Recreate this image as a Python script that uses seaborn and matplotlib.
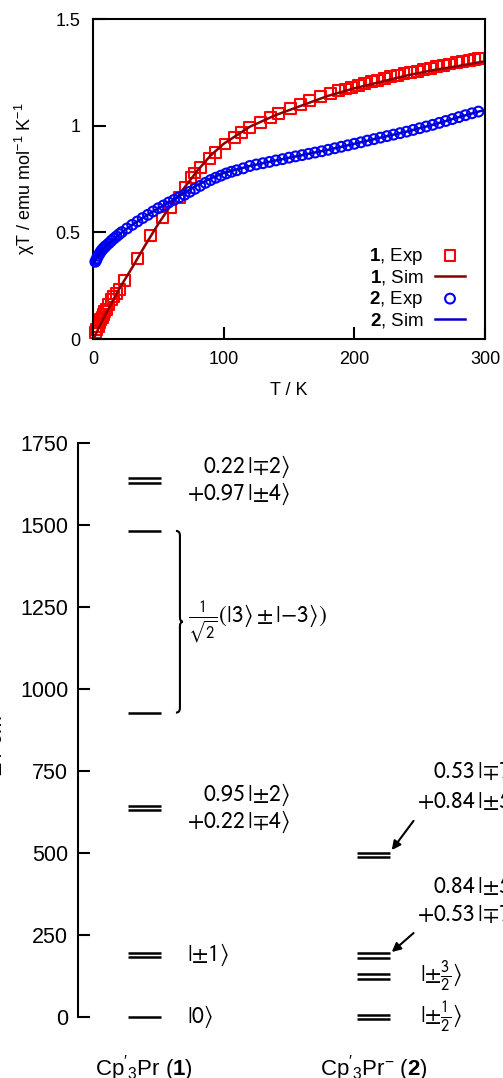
import matplotlib
matplotlib.use("Agg")
import matplotlib.pyplot as plt
import numpy as np
import pandas as pd
import seaborn as sns
from matplotlib.path import Path
from matplotlib.patches import PathPatch

# ---------------- top panel data ----------------
T1_exp = [2, 3, 4, 5, 6, 7, 8, 9, 10, 12, 14, 16, 18, 20,
          24, 34, 44, 53, 59, 66, 71, 75, 78, 82, 89, 94,
          101, 108, 114, 120, 128, 136, 142, 151, 159, 166, 174, 182, 188,
          193, 198, 203, 208, 213, 218, 223, 228, 233, 238,
          243, 248, 253, 258, 263, 268, 273, 278, 283, 288, 292, 295]
chi1_exp = [0.030, 0.045, 0.060, 0.075, 0.090, 0.102, 0.115, 0.128, 0.140, 0.163, 0.183, 0.200, 0.215, 0.232,
            0.276, 0.377, 0.486, 0.571, 0.618, 0.665, 0.711, 0.758, 0.778, 0.805, 0.844, 0.875,
            0.914, 0.945, 0.968, 0.990, 1.015, 1.038, 1.057, 1.082, 1.100, 1.116, 1.135, 1.150, 1.163,
            1.172, 1.181, 1.190, 1.198, 1.206, 1.213, 1.221, 1.229, 1.236, 1.243,
            1.250, 1.256, 1.263, 1.270, 1.276, 1.283, 1.289, 1.295, 1.301, 1.307, 1.312, 1.316]

T2_exp = [1.8, 2.5, 3, 4, 5, 6, 7, 8, 9, 10, 12, 14, 16, 18, 20, 22,
          26, 30, 34, 38, 42, 46, 50, 54, 58, 62, 66, 70, 74, 78, 82, 86, 90, 94, 98, 102,
          106, 110, 115, 120, 125, 130, 135, 140, 145, 150, 155, 160,
          165, 170, 175, 180, 185, 190, 195, 200, 205, 210,
          215, 220, 225, 230, 235, 240, 245, 250, 255, 260,
          265, 270, 275, 280, 285, 290, 295]
chi2_exp = [0.362, 0.370, 0.378, 0.390, 0.400, 0.410, 0.418, 0.425, 0.431, 0.437, 0.448, 0.460, 0.471, 0.481, 0.491, 0.501,
            0.518, 0.535, 0.551, 0.567, 0.582, 0.598, 0.613, 0.626, 0.640, 0.652, 0.664, 0.676, 0.690, 0.704, 0.718, 0.732,
            0.745, 0.756, 0.766, 0.776,
            0.784, 0.791, 0.800, 0.811, 0.818, 0.824, 0.830, 0.837, 0.843, 0.850, 0.856, 0.862,
            0.868, 0.874, 0.880, 0.887, 0.894, 0.901, 0.908, 0.915, 0.922, 0.930,
            0.937, 0.944, 0.951, 0.958, 0.965, 0.972, 0.980, 0.988, 0.996, 1.004,
            1.013, 1.022, 1.031, 1.040, 1.049, 1.058, 1.066]

T_sim = [1, 5, 10, 20, 30, 40, 50, 60, 70, 80, 90, 100, 120, 140, 160, 180, 200, 220, 240, 260, 280, 298]
chi1_sim = [0.008, 0.06, 0.12, 0.235, 0.335, 0.44, 0.54, 0.63, 0.71, 0.79, 0.86, 0.915,
            0.995, 1.05, 1.095, 1.14, 1.175, 1.205, 1.235, 1.26, 1.28, 1.30]
chi2_sim = [0.36, 0.40, 0.437, 0.49, 0.535, 0.575, 0.613, 0.646, 0.685, 0.722, 0.752, 0.778,
            0.811, 0.837, 0.862, 0.887, 0.915, 0.944, 0.972, 1.004, 1.040, 1.071]

legend_labels = [r"$\mathbf{1}$, Exp", r"$\mathbf{1}$, Sim", r"$\mathbf{2}$, Exp", r"$\mathbf{2}$, Sim"]
top_xticks = [0, 100, 200, 300]
top_yticks = [0, 0.5, 1, 1.5]
top_yticklabels = ["0", "0.5", "1", "1.5"]

# ---------------- bottom panel data ----------------
compounds = [r"$\mathrm{Cp}'_3\mathrm{Pr}$ ($\mathbf{1}$)", r"$\mathrm{Cp}'_3\mathrm{Pr}^{-}$ ($\mathbf{2}$)"]
levels1 = [0, 189, 637, 928, 1482, 1635]
degen1 = [1, 2, 2, 1, 1, 2]
levels2 = [0, 123, 187, 494]
degen2 = [2, 2, 2, 2]
bottom_yticks = [0, 250, 500, 750, 1000, 1250, 1500, 1750]

# ---------------- style ----------------
plt.rcParams["font.family"] = ["Liberation Sans", "DejaVu Sans"]
plt.rcParams["mathtext.fontset"] = "custom"
plt.rcParams["mathtext.rm"] = "Liberation Sans"
plt.rcParams["mathtext.it"] = "Liberation Sans:italic"
plt.rcParams["mathtext.bf"] = "Liberation Sans:bold"
plt.rcParams["mathtext.sf"] = "Liberation Sans"

W, H = 503, 1078
fig = plt.figure(figsize=(W / 100, H / 100), dpi=100)

# ================= top panel =================
ax1 = fig.add_axes([93 / W, 1 - 339 / H, 392 / W, 320 / H])
df1 = pd.DataFrame({"T": T1_exp, "chiT": chi1_exp})
df2 = pd.DataFrame({"T": T2_exp, "chiT": chi2_exp})
dsim = pd.DataFrame({"T": T_sim, "c1": chi1_sim, "c2": chi2_sim})

sns.scatterplot(data=df1, x="T", y="chiT", ax=ax1, marker="s", s=62,
                facecolor="none", edgecolor="#ff0000", linewidth=1.5,
                label=legend_labels[0], clip_on=False, zorder=2)
sns.lineplot(data=dsim, x="T", y="c1", ax=ax1, color="#8b0000", lw=1.8,
             label=legend_labels[1], zorder=3)
sns.scatterplot(data=df2, x="T", y="chiT", ax=ax1, marker="o", s=50,
                facecolor="none", edgecolor="#0000ff", linewidth=1.5,
                label=legend_labels[2], clip_on=False, zorder=4)
sns.lineplot(data=dsim, x="T", y="c2", ax=ax1, color="#0000cc", lw=1.8,
             label=legend_labels[3], zorder=5)

ax1.set_xlim(0, 300)
ax1.set_ylim(0, 1.5)
ax1.set_xticks(top_xticks)
ax1.set_yticks(top_yticks)
ax1.set_yticklabels(top_yticklabels)
ax1.tick_params(direction="in", length=9, width=1.5, labelsize=13, pad=9,
                top=False, right=False)
for sp in ax1.spines.values():
    sp.set_linewidth(1.5)
    sp.set_color("black")
ax1.set_xlabel("T / K", fontsize=13)
ax1.xaxis.set_label_coords(0.5, -0.135)
ax1.set_ylabel(r"χT / emu mol$^{-1}$ K$^{-1}$", fontsize=13)
ax1.yaxis.set_label_coords(-0.142, 0.5)

handles, labels = ax1.get_legend_handles_labels()
ax1.legend(handles, labels, loc="lower right", bbox_to_anchor=(0.949, 0.028),
           frameon=False, markerfirst=False, fontsize=13.5, handlelength=1.6,
           handletextpad=0.6, labelspacing=0.08, borderpad=0, borderaxespad=0)

# ================= bottom panel =================
ax2 = fig.add_axes([78 / W, 1 - 1017 / H, 425 / W, 574 / H])
ax2.set_xlim(-0.290, 1.5655)
ax2.set_ylim(0, 1750)
for side in ["top", "right", "bottom"]:
    ax2.spines[side].set_visible(False)
ax2.spines["left"].set_linewidth(1.5)
ax2.set_yticks(bottom_yticks)
ax2.tick_params(axis="y", direction="in", length=8.6, width=1.5, labelsize=15.5, pad=7)
ax2.set_xticks([0, 1])
ax2.set_xticklabels(compounds, fontsize=16)
ax2.tick_params(axis="x", length=0, pad=26)

half = 0.072
dd = 7.2
for ci, (levels, degen) in enumerate([(levels1, degen1), (levels2, degen2)]):
    for E, g in zip(levels, degen):
        offs = [0.0] if g == 1 else [-dd, dd]
        for o in offs:
            ax2.hlines(E + o, ci - half, ci + half, color="black", lw=1.8, clip_on=False)

kw = dict(fontsize=17, math_fontfamily="stixsans", va="center", color="black")
ax2.text(0.635, 1677, r"$0.22\,|{\mp}2\rangle$", ha="right", **kw)
ax2.text(0.635, 1595, r"$+0.97\,|{\pm}4\rangle$", ha="right", **kw)
ax2.text(0.19, 1206, r"$\frac{1}{\sqrt{2}}(|3\rangle \pm |{-}3\rangle)$", ha="left", **kw)
ax2.text(0.635, 677, r"$0.95\,|{\pm}2\rangle$", ha="right", **kw)
ax2.text(0.635, 595, r"$+0.22\,|{\mp}4\rangle$", ha="right", **kw)
ax2.text(0.186, 189, r"$|{\pm}1\rangle$", ha="left", **kw)
ax2.text(0.186, 0, r"$|0\rangle$", ha="left", **kw)
ax2.text(1.203, 123, r"$|{\pm}\frac{3}{2}\rangle$", ha="left", **kw)
ax2.text(1.203, 0, r"$|{\pm}\frac{1}{2}\rangle$", ha="left", **kw)
ax2.text(1.26, 747, r"$0.53\,|{\mp}7/2\rangle$", ha="left", **kw)
ax2.text(1.19, 655, r"$+0.84\,|{\pm}5/2\rangle$", ha="left", **kw)
ax2.text(1.26, 396, r"$0.84\,|{\pm}5/2\rangle$", ha="left", **kw)
ax2.text(1.19, 311, r"$+0.53\,|{\mp}7/2\rangle$", ha="left", **kw)

# arrows
for tip, tail in [((1.08, 509), (1.175, 598)), ((1.08, 198), (1.175, 256))]:
    ax2.annotate("", xy=tip, xytext=tail,
                 arrowprops=dict(arrowstyle="-|>", color="black", lw=1.5,
                                 mutation_scale=13, shrinkA=0, shrinkB=0))

# curly brace
x0, x1, xm = 0.1376, 0.155, 0.168
yt, yb = 1482, 928
ym = (yt + yb) / 2
r = 14
verts = [(x0, yt), (x1, yt), (x1, yt - r), (x1, ym + r), (x1, ym), (xm, ym),
         (x1, ym), (x1, ym - r), (x1, yb + r), (x1, yb), (x0, yb)]
codes = [Path.MOVETO, Path.CURVE3, Path.CURVE3, Path.LINETO, Path.CURVE3, Path.CURVE3,
         Path.CURVE3, Path.CURVE3, Path.LINETO, Path.CURVE3, Path.CURVE3]
ax2.add_patch(PathPatch(Path(verts, codes), fill=False, lw=1.5, color="black"))

fig.text(-3 / W, 1 - 737 / H, r"E / cm$^{-1}$", rotation=90, ha="center", va="center",
         fontsize=15.5)

fig.savefig("out.png", dpi=100)
